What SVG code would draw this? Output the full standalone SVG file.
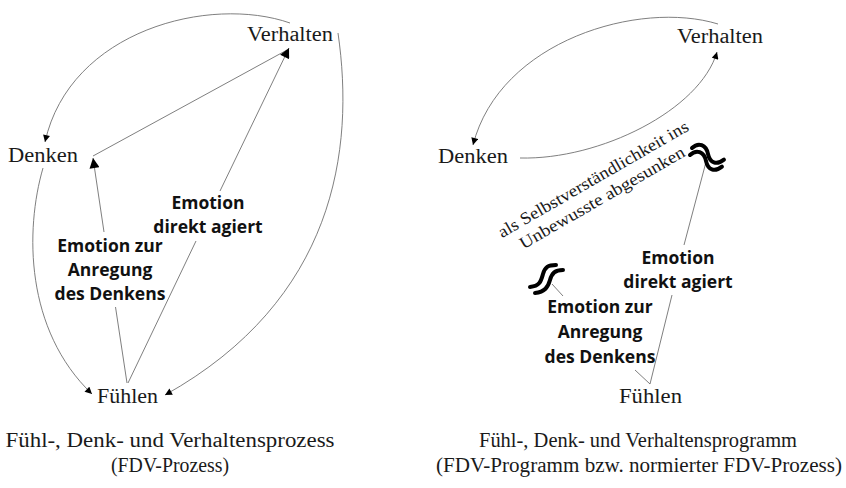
<svg xmlns="http://www.w3.org/2000/svg" width="846" height="488" viewBox="0 0 846 488">
<style>
.n{font-family:"Liberation Serif","Times New Roman",serif;font-size:20px;fill:#1a1a1a}
.b{font-family:"Open Sans","Liberation Sans",sans-serif;font-weight:bold;font-size:17.5px;fill:#111;text-anchor:middle}
.c{font-family:"Liberation Serif","Times New Roman",serif;font-size:20px;fill:#1a1a1a;text-anchor:middle}
.r{font-family:"Liberation Serif","Times New Roman",serif;font-size:17px;fill:#1a1a1a;text-anchor:middle}
.l{fill:none;stroke:#707070;stroke-width:0.9}
.sq{fill:none;stroke:#000;stroke-width:4;stroke-linecap:round}
</style>
<defs>
<marker id="a" viewBox="0 0 10 10" refX="10" refY="5" markerWidth="8" markerHeight="7" markerUnits="userSpaceOnUse" orient="auto"><path d="M0,0 L10,5 L0,10 z" fill="#000"/></marker>
<marker id="A" viewBox="0 0 10 10" refX="10" refY="5" markerWidth="11" markerHeight="10" markerUnits="userSpaceOnUse" orient="auto"><path d="M0,0 L10,5 L0,10 z" fill="#000"/></marker>
</defs>
<rect width="846" height="488" fill="#fff"/>

<g id="connectors">
<!-- left diagram -->
<path class="l" d="M 290 23 C 210 -5, 70 30, 45 142" marker-end="url(#a)"/>
<path class="l" d="M 338 33 C 355 150, 335 300, 165 395" marker-end="url(#a)"/>
<path class="l" d="M 43 168 C 25 230, 25 330, 92 394" marker-end="url(#a)"/>
<path class="l" d="M 287 50 L 93 156"/>
<path class="l" d="M 127 383 L 115.5 307"/>
<path class="l" d="M 104 232 L 93 158" marker-end="url(#A)"/>
<path class="l" d="M 128 383 L 196 241"/>
<path class="l" d="M 220 191 L 289 48" marker-end="url(#A)"/>
<!-- right diagram -->
<path class="l" d="M 718 24 C 640 0, 500 40, 473 145" marker-end="url(#a)"/>
<path class="l" d="M 520 158 C 600 160, 700 110, 717 52" marker-end="url(#a)"/>
<path class="l" d="M 706 162 L 684 245"/>
<path class="l" d="M 672 295 L 650 384"/>
<path class="l" d="M 650 384 L 635 370"/>
<path class="l" d="M 563 296 L 552 284"/>
</g>

<g id="squiggle-top">
<path class="sq" d="M 0 0 C 4 -8, 12 -8, 17 0 S 29 8, 34 0" transform="translate(692,148) rotate(20)"/>
<path class="sq" d="M 0 0 C 4 -8, 12 -8, 17 0 S 29 8, 34 0" transform="translate(690,155) rotate(20)"/>
</g>
<g id="squiggle-bottom">
<path class="sq" d="M 530 287 C 540 286, 541 281, 543 274 C 545 267, 548 265, 556 265"/>
<path class="sq" d="M 535 293 C 545 292, 548 287, 550 280 C 552 273, 555 270, 563 270"/>
</g>

<g id="l-verhalten"><text class="n" x="247" y="41" textLength="86" lengthAdjust="spacingAndGlyphs">Verhalten</text></g>
<g id="l-denken"><text class="n" x="8" y="162" textLength="70" lengthAdjust="spacingAndGlyphs">Denken</text></g>
<g id="l-fuehlen"><text class="n" x="97" y="403" textLength="61" lengthAdjust="spacingAndGlyphs">Fühlen</text></g>
<g id="l-direkt"><text class="b" x="208" y="209">Emotion</text><text class="b" x="208" y="233">direkt agiert</text></g>
<g id="l-anregung"><text class="b" x="110" y="252">Emotion zur</text><text class="b" x="110" y="276">Anregung</text><text class="b" x="110" y="300">des Denkens</text></g>

<g id="r-verhalten"><text class="n" x="677" y="43" textLength="86" lengthAdjust="spacingAndGlyphs">Verhalten</text></g>
<g id="r-denken"><text class="n" x="438" y="163" textLength="70" lengthAdjust="spacingAndGlyphs">Denken</text></g>
<g id="r-fuehlen"><text class="n" x="619" y="403" textLength="63" lengthAdjust="spacingAndGlyphs">Fühlen</text></g>
<g id="r-direkt"><text class="b" x="678" y="264">Emotion</text><text class="b" x="678" y="288">direkt agiert</text></g>
<g id="r-anregung"><text class="b" x="600" y="313">Emotion zur</text><text class="b" x="600" y="338">Anregung</text><text class="b" x="600" y="363">des Denkens</text></g>
<g id="r-unbewusst" transform="translate(596,184) rotate(-30)">
<text class="r" x="0" y="0" textLength="217" lengthAdjust="spacingAndGlyphs">als Selbstverständlichkeit ins</text>
<text class="r" x="-1.5" y="20.5" textLength="188" lengthAdjust="spacingAndGlyphs">Unbewusste abgesunken</text>
</g>

<g id="caption-left">
<text class="c" x="170" y="447" textLength="329" lengthAdjust="spacingAndGlyphs">Fühl-, Denk- und Verhaltensprozess</text>
<text class="c" x="170" y="472" textLength="118" lengthAdjust="spacingAndGlyphs">(FDV-Prozess)</text>
</g>
<g id="caption-right">
<text class="c" x="638" y="447" textLength="318" lengthAdjust="spacingAndGlyphs">Fühl-, Denk- und Verhaltensprogramm</text>
<text class="c" x="639" y="472" textLength="406" lengthAdjust="spacingAndGlyphs">(FDV-Programm bzw. normierter FDV-Prozess)</text>
</g>
</svg>
